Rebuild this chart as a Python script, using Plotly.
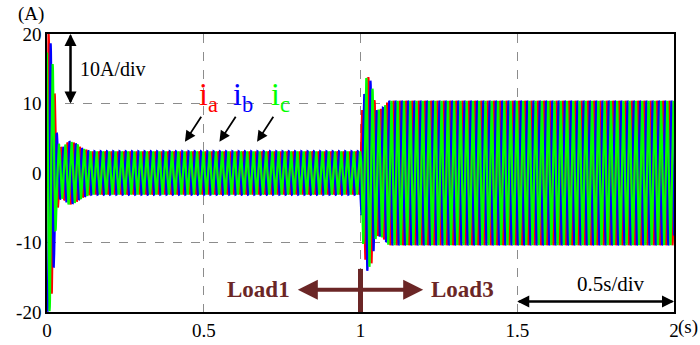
import numpy as np
import plotly.graph_objects as go

# Envelope of the phase-current amplitude (s, A)
env_time = [0.0, 0.008, 0.016, 0.024, 0.03, 0.04, 0.05, 0.07, 0.09, 0.11, 0.14, 1.0, 1.005, 1.02, 1.035, 1.05, 1.07, 1.09, 2.0]
env_amp = [20.0, 20.0, 17.0, 12.0, 6.0, 3.8, 3.7, 4.6, 4.3, 3.6, 3.1, 3.1, 9.0, 14.2, 13.0, 9.0, 9.3, 10.4, 10.4]
line_freq_hz = 50.0
phase_names = ["i_a", "i_b", "i_c"]
phase_shift_deg = [0.0, -120.0, 120.0]
phase_colors = ["#ff0000", "#0000ff", "#00ff00"]

x_ticks = [0, 0.5, 1, 1.5, 2]
x_ticklabels = ["0", "0.5", "1", "1.5", "2"]
y_ticks = [-20, -10, 0, 10, 20]
y_ticklabels = ["-20", "-10", "0", "10", "20"]

t = np.linspace(0, 2, 4001)
amp = np.interp(t, env_time, env_amp)

fig = go.Figure()
for name, ph, col in zip(phase_names, phase_shift_deg, phase_colors):
    y = amp * np.sin(2 * np.pi * line_freq_hz * t + np.deg2rad(ph))
    fig.add_trace(go.Scatter(x=t, y=y, mode="lines", name=name,
                             line=dict(color=col, width=2.2), hoverinfo="skip"))

serif = "Liberation Serif, Times New Roman, serif"
brown = "#6b2626"

fig.update_layout(
    width=700, height=345,
    margin=dict(l=47, r=26, t=34, b=33),
    paper_bgcolor="white", plot_bgcolor="white",
    showlegend=False,
    font=dict(family=serif, size=19, color="black"),
)
fig.update_xaxes(range=[0, 2], tickvals=x_ticks, ticktext=x_ticklabels, automargin=False,
                 showgrid=True, gridcolor="#8c8c8c", griddash="dash", gridwidth=1,
                 zeroline=False, showline=True, linecolor="black", linewidth=1.5, mirror=True,
                 ticks="", tickfont=dict(family=serif, size=19))
fig.update_yaxes(range=[-20, 20], tickvals=y_ticks, ticktext=y_ticklabels, automargin=False,
                 showgrid=True, gridcolor="#8c8c8c", griddash="dash", gridwidth=1,
                 zeroline=False, showline=True, linecolor="black", linewidth=1.5, mirror=True,
                 ticks="", tickfont=dict(family=serif, size=19))

ann = []
# (A) unit
ann.append(dict(xref="paper", yref="paper", x=-0.025, y=1.0, yshift=20, text="(A)",
                showarrow=False, font=dict(family=serif, size=19), xanchor="center", yanchor="middle"))
# (s) unit
ann.append(dict(xref="paper", yref="paper", x=1.0, y=0, xshift=2, yshift=-15, text="(s)",
                showarrow=False, font=dict(family=serif, size=19), xanchor="left", yanchor="middle"))
# 10A/div double arrow
for a_y, t_y in [(20, 10), (10, 20)]:
    ann.append(dict(x=0.075, y=a_y, ax=0.075, ay=t_y, xref="x", yref="y", axref="x", ayref="y",
                    text="", showarrow=True, arrowhead=2, arrowsize=1.2, arrowwidth=2, arrowcolor="black"))
ann.append(dict(x=0.1, y=15, xref="x", yref="y", text="10A/div", showarrow=False,
                xanchor="left", font=dict(family=serif, size=20)))
# phase labels
lab = [("a", 0.515, "#ff0000", 0.44), ("b", 0.625, "#0000ff", 0.55), ("c", 0.745, "#00ff00", 0.67)]
for sub, xl, col, xa in lab:
    ann.append(dict(x=xl, y=11, xref="x", yref="y", text="i<sub>%s</sub>" % sub, showarrow=False,
                    font=dict(family=serif, size=32, color=col)))
    ann.append(dict(x=xa, y=4.5, ax=xa + 0.055, ay=8.3, xref="x", yref="y", axref="x", ayref="y",
                    text="", showarrow=True, arrowhead=2, arrowsize=1.2, arrowwidth=1.8, arrowcolor="black"))
# Load arrows
ann.append(dict(x=0.8, y=-16.8, ax=1.0, ay=-16.8, xref="x", yref="y", axref="x", ayref="y",
                text="", showarrow=True, arrowhead=2, arrowsize=1, arrowwidth=4, arrowcolor=brown))
ann.append(dict(x=1.2, y=-16.8, ax=1.0, ay=-16.8, xref="x", yref="y", axref="x", ayref="y",
                text="", showarrow=True, arrowhead=2, arrowsize=1, arrowwidth=4, arrowcolor=brown))
ann.append(dict(x=0.78, y=-16.8, xref="x", yref="y", text="<b>Load1</b>", showarrow=False,
                xanchor="right", font=dict(family=serif, size=23, color=brown)))
ann.append(dict(x=1.22, y=-16.8, xref="x", yref="y", text="<b>Load3</b>", showarrow=False,
                xanchor="left", font=dict(family=serif, size=23, color=brown)))
# 0.5s/div
for a_x, t_x in [(1.5, 2.0), (2.0, 1.5)]:
    ann.append(dict(x=a_x, y=-18.5, ax=t_x, ay=-18.5, xref="x", yref="y", axref="x", ayref="y",
                    text="", showarrow=True, arrowhead=2, arrowsize=1.2, arrowwidth=2, arrowcolor="black"))
ann.append(dict(x=1.8, y=-16.0, xref="x", yref="y", text="0.5s/div", showarrow=False,
                font=dict(family=serif, size=21)))
fig.update_layout(annotations=ann)

fig.add_shape(type="line", xref="x", yref="y", x0=1.0, x1=1.0, y0=-13.8, y1=-20,
              line=dict(color=brown, width=5))

fig.write_html("out.html", config={"displayModeBar": False},
               post_script="document.body.style.margin='0';document.body.style.overflow='hidden';")
